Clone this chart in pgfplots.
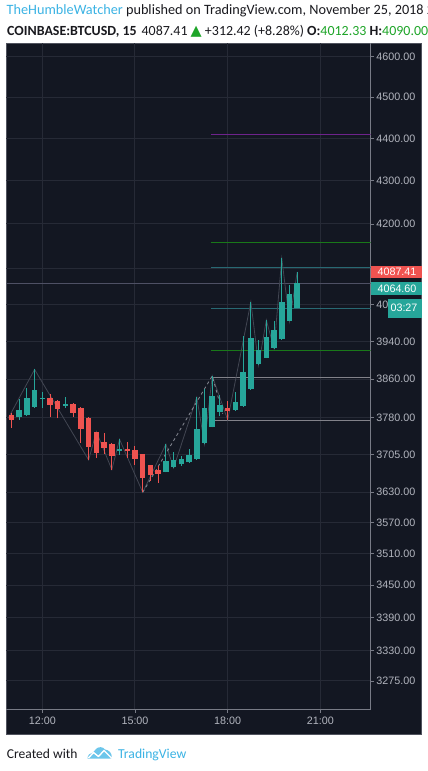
\documentclass[border=0pt]{standalone}
\usepackage{pgfplots}
\pgfplotsset{compat=1.18}
\usepackage{pgfplotstable}
\usepackage{fontspec}
\setmainfont{Liberation Sans}
\newfontfamily\carlito{Carlito}
\newfontfamily\dejavu{DejaVu Sans}
\definecolor{bgdark}{RGB}{19,23,34}
\definecolor{gridc}{RGB}{38,42,54}
\definecolor{axisc}{RGB}{120,123,134}
\definecolor{tickc}{RGB}{178,181,190}
\definecolor{upc}{RGB}{38,166,154}
\definecolor{downc}{RGB}{239,83,80}
\definecolor{tvblue}{RGB}{59,179,228}
\definecolor{hdrgreen}{RGB}{30,165,40}
\definecolor{hdrtext}{RGB}{25,25,30}
\definecolor{lvpurple}{RGB}{110,35,140}
\definecolor{lvgreen}{RGB}{25,120,25}
\definecolor{lvteal}{RGB}{40,105,115}
\definecolor{lvgrey}{RGB}{130,130,138}
\definecolor{lvprice}{RGB}{78,80,100}
\definecolor{zigc}{RGB}{66,70,82}
\definecolor{dashc}{RGB}{135,138,148}

% t O H L C
\pgfplotstableread{
t O H L C
11.25 3780.6 3818.5 3775.1 3795.7
11.50 3785.4 3841.3 3784.0 3820.6
11.75 3802.5 3880.7 3801.0 3837.2
12.00 3818.0 3833.0 3800.4 3821.0
12.75 3804.6 3823.3 3800.4 3808.7
14.50 3712.5 3735.5 3703.8 3716.0
16.00 3670.4 3726.0 3669.0 3691.9
16.25 3680.2 3709.3 3677.7 3693.7
16.50 3685.0 3702.4 3681.6 3695.7
16.75 3690.0 3715.5 3688.0 3703.8
17.00 3695.7 3822.0 3694.0 3755.9
17.25 3727.5 3838.7 3726.0 3799.8
17.50 3761.3 3866.6 3760.0 3824.7
17.75 3792.2 3826.8 3782.7 3806.1
18.25 3795.7 3832.6 3794.0 3811.8
18.50 3804.6 3951.7 3803.0 3875.0
18.75 3839.9 4025.6 3838.0 3947.4
19.00 3891.7 3943.1 3890.0 3921.6
19.25 3905.1 3986.0 3904.0 3949.5
19.50 3926.6 3983.9 3925.0 3964.6
19.75 3945.9 4121.9 3944.0 4025.6
20.00 3984.5 4063.0 3983.0 4043.2
20.25 4012.4 4091.8 4011.0 4068.1
}\upcandles

\pgfplotstableread{
t O H L C
11.00 3785.4 3788.9 3759.2 3775.1
12.25 3820.6 3828.9 3780.6 3806.7
12.50 3814.3 3816.4 3778.6 3798.3
13.00 3808.7 3810.0 3781.9 3790.1
13.25 3799.8 3801.9 3728.6 3757.2
13.50 3779.2 3781.3 3693.7 3720.6
13.75 3750.4 3751.0 3698.3 3708.4
14.00 3729.7 3748.3 3706.8 3717.9
14.25 3725.9 3727.0 3674.6 3701.8
14.75 3715.3 3730.5 3698.3 3711.5
15.00 3713.9 3722.0 3683.6 3696.3
15.25 3705.2 3706.0 3629.3 3658.4
15.50 3683.0 3684.0 3652.4 3663.7
15.75 3673.7 3681.6 3648.4 3666.2
18.00 3799.2 3813.7 3775.1 3794.2
}\downcandles

\pgfplotsset{candle/.style 2 args={draw=none, no markers, forget plot,
  error bars/.cd, y dir=plus, y explicit, error mark=none,
  error bar style={draw=#1, line width=#2, solid}}}

\begin{document}
\begin{tikzpicture}
\useasboundingbox (0,0) rectangle (428bp,771bp);
\clip (0,0) rectangle (428bp,771bp);
\fill[white] (0,0) rectangle (428bp,771bp);
\filldraw[fill=bgdark, draw=axisc!60!bgdark, line width=0.8bp] (6.3bp,37bp) rectangle (421.7bp,728bp);
\begin{axis}[
  at={(6.3bp,728bp)}, anchor=north west,
  scale only axis, width=364.4bp, height=666.3bp,
  xmin=10.835, xmax=22.628,
  ymode=log, ymin=3225.1, ymax=4635.2,
  axis x line*=bottom, axis y line*=right,
  axis line style={draw=axisc, line width=1bp},
  xtick={12,15,18,21}, xticklabels={12:00,15:00,18:00,21:00},
  ytick={3275,3330,3390,3450,3510,3570,3630,3705,3780,3860,3940,4020,4100,4200,4300,4400,4500,4600},
  yticklabels={3275.00,3330.00,3390.00,3450.00,3510.00,3570.00,3630.00,3705.00,3780.00,3860.00,3940.00,40,{},4200.00,4300.00,4400.00,4500.00,4600.00},
  xminorticks=false, yminorticks=false,
  tick align=outside, major tick length=3.5bp,
  tick style={draw=axisc, line width=0.8bp},
  grid=major, major grid style={draw=gridc, line width=1bp},
  ticklabel style={font=\fontsize{10.8}{13}\selectfont, text=tickc},
  yticklabel style={anchor=west, inner sep=2bp},
  xticklabel style={inner sep=2bp, yshift=-2bp},
  /pgf/number format/assume math mode=true,
]
% level lines
\addplot[lvprice, line width=1bp] coordinates {(10.835,4066.8) (22.628,4066.8)};
\addplot[lvpurple, line width=1bp] coordinates {(17.47,4410.4) (22.628,4410.4)};
\addplot[lvgreen, line width=1bp] coordinates {(17.47,4158.5) (22.628,4158.5)};
\addplot[lvteal, line width=1bp] coordinates {(17.47,4102.4) (22.628,4102.4)};
\addplot[lvteal, line width=1bp] coordinates {(17.47,4011.8) (22.628,4011.8)};
\addplot[lvgreen, line width=1bp] coordinates {(17.47,3921.1) (22.628,3921.1)};
\addplot[lvgrey, line width=1bp] coordinates {(17.47,3863.9) (22.628,3863.9)};
\addplot[lvgrey, line width=1bp] coordinates {(17.56,3774.4) (22.628,3774.4)};
% zigzag
\addplot[zigc, line width=0.8bp, no markers] coordinates {
(10.9,3779) (11.75,3880.7) (13.5,3693.7) (13.75,3751) (14.25,3674.6) (14.5,3735.5)
(15.25,3629.3) (16.0,3726) (16.25,3677.7) (17.0,3822) (17.25,3726) (17.5,3866.6)
(18.0,3775.1) (18.75,4025.6) (19.0,3890) (19.25,3986) (19.5,3925) (19.75,4121.9)
(20.0,3983) (20.25,4091.8)};
\addplot[dashc, line width=0.8bp, no markers, dash pattern=on 3bp off 3bp] coordinates {
(15.25,3629.3) (17.5,3866.6) (17.84,3788)};
% wicks
\addplot[candle={upc}{1bp}]
  table[x=t, y=L, y error plus expr=\thisrow{H}-\thisrow{L}] {\upcandles};
\addplot[candle={downc}{1bp}]
  table[x=t, y=L, y error plus expr=\thisrow{H}-\thisrow{L}] {\downcandles};
% bodies
\addplot[candle={upc}{5.5bp}]
  table[x=t, y=O, y error plus expr=\thisrow{C}-\thisrow{O}] {\upcandles};
\addplot[candle={downc}{5.5bp}]
  table[x=t, y=C, y error plus expr=\thisrow{O}-\thisrow{C}] {\downcandles};
\end{axis}
\begin{scope}[x=1bp,y=1bp]
% price labels
\fill[downc] (370.5,492.7) rectangle (421.7,505);
\node[text=white, font=\fontsize{10.8}{13}\selectfont, inner sep=0pt] at (397,498.8) {4087.41};
\fill[upc] (370.5,476) rectangle (421.7,489);
\node[text=white, font=\fontsize{10.8}{13}\selectfont, inner sep=0pt] at (397,482.5) {4064.60};
\fill[upc] (388,453.3) rectangle (421.7,471.7);
\node[text=white, font=\fontsize{10.8}{13}\selectfont, inner sep=0pt] at (404,463) {03:27};
% header
\node[anchor=base west, inner sep=0pt, text=hdrtext] at (6.5,756.5)
  {\carlito\fontsize{14.3}{17}\selectfont\textcolor{tvblue}{TheHumbleWatcher} published on TradingView.com, November 25, 2018 21:12 UTC};
\node[anchor=base west, inner sep=0pt, text=hdrtext] at (7,735.8)
  {\carlito\fontsize{14}{16}\selectfont\textbf{COINBASE:BTCUSD, 15}\hspace{0.35em}4087.41 \textcolor{hdrgreen}{\dejavu\fontsize{14.5}{16}\selectfont ▲} +312.42 (+8.28\%) \textbf{O:}\textcolor{hdrgreen}{4012.33} \textbf{H:}\textcolor{hdrgreen}{4090.00}};
% footer
\node[anchor=base west, inner sep=0pt, text=hdrtext] at (6.7,12.7)
  {\carlito\fontsize{13.6}{16}\selectfont Created with};
\fill[tvblue!75] (87.5,12.3) .. controls (87.5,16) and (90,18) .. (93,18.5)
  -- (96,22) .. controls (98,24.5) and (103,24.5) .. (105,21.5)
  .. controls (109,21) and (111.7,18) .. (111.7,14.5) .. controls (111.7,13) and (111,12.3) .. (110,12.3) -- cycle;
\draw[white, line width=1.4bp, line join=round] (88.5,13) -- (93.5,18.5) -- (98.5,14.5) -- (104,20.5) -- (111.5,13);
\node[anchor=base west, inner sep=0pt, text=tvblue] at (118,12.7)
  {\carlito\fontsize{13.7}{16}\selectfont TradingView};
\end{scope}
\end{tikzpicture}
\end{document}
